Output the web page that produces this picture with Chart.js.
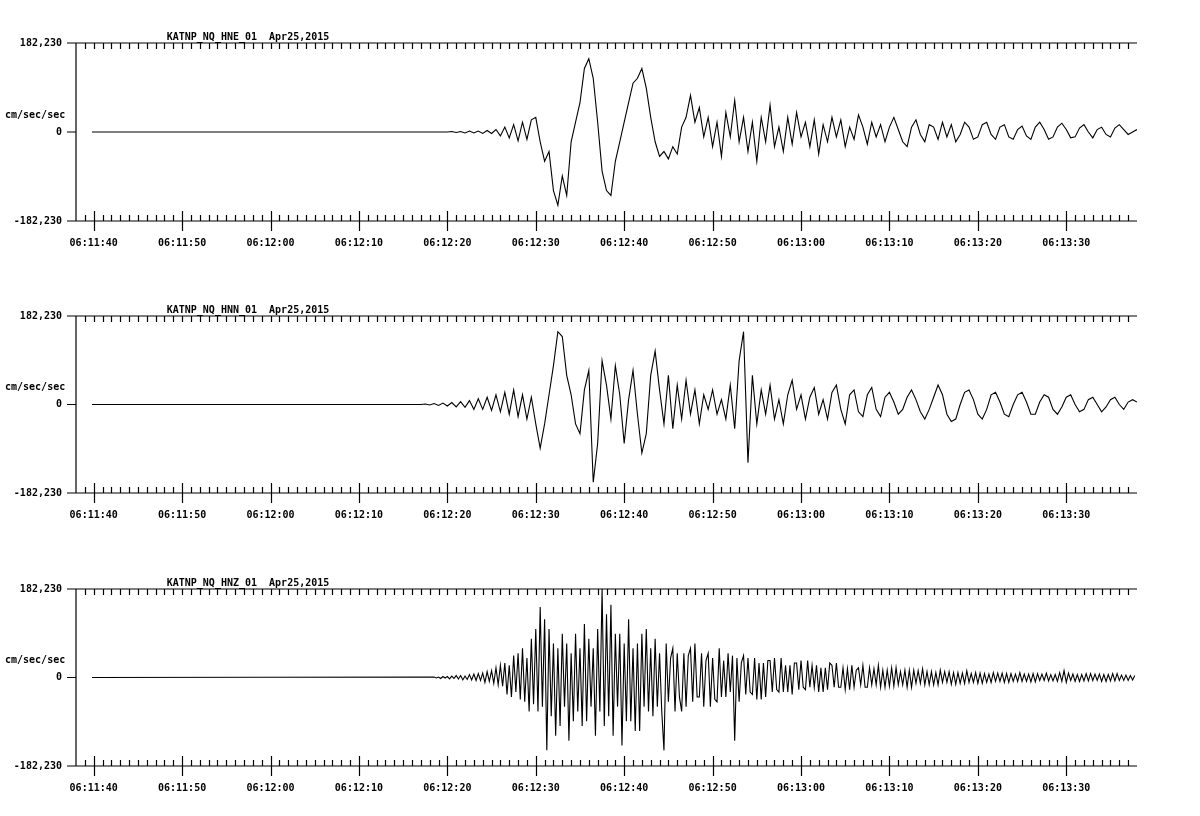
<!DOCTYPE html>
<html><head><meta charset="utf-8">
<script src="https://cdn.jsdelivr.net/npm/chart.js@4"></script>
<style>body{margin:0;background:#fff;width:1200px;height:816px;overflow:hidden}
.w{position:absolute;left:0;width:1200px;height:272px}</style></head><body>
<div class="w" style="top:0"><canvas id="c0"></canvas></div>
<div class="w" style="top:272px"><canvas id="c1"></canvas></div>
<div class="w" style="top:544px"><canvas id="c2"></canvas></div>
<script>
const titles = ["KATNP_NQ_HNE_01  Apr25,2015","KATNP_NQ_HNN_01  Apr25,2015","KATNP_NQ_HNZ_01  Apr25,2015"];
const unitLabel = "cm/sec/sec";
const yMax = 182.23;
const yTickLabels = ["182,230","0","-182,230"];
const timeTickLabels = ["06:11:40","06:11:50","06:12:00","06:12:10","06:12:20","06:12:30","06:12:40","06:12:50","06:13:00","06:13:10","06:13:20","06:13:30"];
const traceStart = -0.2;   // seconds after 06:11:40
const hneStart = 40, hneStep = 0.5;
const hneValues = [0,1,-1,1,-2,2,-2,2,-3,3,-3,5,-8,10,-12,15,-18,20,-15,25,30,
-20,-60,-40,-120,-150,-90,-130,-20,20,60,130,150,110,20,-80,-120,-130,-60,-20,20,60,100,110,130,90,30,-20,-50,-40,-55,-30,-45,10,30,75,20,50,-10,30,-30,20,-50,40,-10,65,-20,30,-40,20,-60,30,-20,55,-30,10,-40,30,-25,40,-10,20,-30,25,-45,15,-20,30,-10,25,-30,10,-15,35,10,-25,20,-10,15,-20,10,30,5,-20,-30,10,25,-5,-20,15,10,-15,20,-10,15,-20,-5,20,10,-15,-10,15,20,-5,-15,10,15,-10,-15,5,12,-8,-15,10,20,5,-15,-10,10,18,5,-12,-10,8,15,0,-12,5,10,-5,-10,8,15,5,-5,0,5];
const hnnStart = 37, hnnStep = 0.5;
const hnnValues = [0,1,-1,2,-2,3,-3,4,-5,6,-6,8,-10,12,-10,15,-12,20,-15,25,-20,30,-25,20,-30,15,-40,
-90,-40,20,80,150,140,60,20,-40,-60,30,70,-160,-80,90,40,-30,80,20,-80,10,70,-20,-100,-60,60,110,30,-40,60,-50,40,-30,50,-20,30,-40,20,-10,30,-20,10,-30,40,-50,90,150,-120,60,-40,30,-20,40,-30,10,-40,20,50,-10,20,-30,15,35,-20,10,-30,25,40,-10,-40,20,30,-15,-25,20,35,-10,-25,15,25,5,-20,-10,15,30,10,-15,-30,-10,15,40,20,-20,-35,-30,0,25,30,10,-20,-30,-10,20,25,5,-20,-25,0,20,25,5,-20,-20,5,20,15,-10,-20,-5,15,20,0,-15,-10,10,15,0,-15,-5,10,15,0,-10,5,10,5];
const hnzStart = 38.5, hnzStep = 0.25;
const hnzValues = [1,-1,1,-2, 2,-1,2,-3, 3,-2,4,-3, 4,-5,3,-4, 6,-5,7,-6, 8,-6,9,-10, 12,-8,14,-12,
20,-15,25,-18, 30,-35,25,-40, 45,-30,50,-45, 60,-50,40,-70, 80,-55,100,-70,
145,-60,120,-150, 100,-80,70,-120, 60,-100,90,-60, 70,-130,50,-90, 90,-70,60,-100,
110,-90,80,-60, 60,-120,100,-70, 182,-100,130,-80, 150,-120,90,-60, 90,-140,70,-90,
120,-90,60,-110, 70,-110,90,-60, 100,-70,60,-80, 80,-60,50,-70, -150,70,-50,40,
60,-70,50,-40, -70,50,-60,45, 60,-50,70,-40, -40,50,-60,35, 50,-60,40,-45,
-50,60,-40,35, -40,50,-30,45, -130,40,-50,30, 45,-35,40,-30, -35,40,-45,30,
-45,30,-40,35, 35,-30,40,-25, -30,40,-30,25, -30,25,-35,30, 30,-25,35,-20,
-25,35,-20,25, -20,25,-30,20, -30,20,-25,30, 25,-20,30,-20, -20,20,-25,18,
-25,25,-20,15, 20,-15,25,-20, -20,20,-15,18, -15,25,-20,15, -20,15,-18,20,
-18,20,-15,12, -15,15,-20,15, -20,15,-12,14, -12,18,-15,12, -15,12,-15,10,
-15,15,-10,12, -10,12,-14,10, -14,10,-12,9, -12,14,-10,8, -10,10,-12,9,
-12,8,-10,7, -10,10,-8,9, -8,9,-10,8, -10,8,-8,7, -8,10,-8,7,
-8,7,-9,8, -9,8,-6,7, -6,9,-7,6, -7,6,-8,10, -8,14,-10,9,
-6,7,-8,6, -8,6,-7,8, -7,8,-6,7, -6,7,-8,6, -8,6,-7,8,
-7,8,-6,5, -6,5,-6,4, -5,4];
const traces = [[hneStart,hneStep,hneValues],[hnnStart,hnnStep,hnnValues],[hnzStart,hnzStep,hnzValues]];
const pads = [{top:43,bottom:51},{top:44,bottom:51},{top:45,bottom:50}];
const FONT = 'bold 10px "DejaVu Sans Mono"';

function frame(idx){return {id:'frame'+idx,afterDatasetsDraw(chart){
  const c=chart.ctx,a=chart.chartArea,xs=chart.scales.x,ys=chart.scales.y;
  const L=a.left,R=a.right,T=a.top,B=a.bottom,Z=ys.getPixelForValue(0);
  c.save();c.strokeStyle='#000';c.lineWidth=1.2;c.fillStyle='#000';
  c.beginPath();
  c.moveTo(67,T);c.lineTo(R,T);c.moveTo(67,B);c.lineTo(R,B);
  c.moveTo(L,T);c.lineTo(L,B);c.moveTo(67,Z);c.lineTo(L,Z);
  for(let s=-1;s<=118;s++){const x=Math.round(xs.getPixelForValue(s))+0.5;
    if(x<=L+1||x>R)continue;
    c.moveTo(x,T);c.lineTo(x,T+6);
    if(s%10===0){c.moveTo(x,B-10);c.lineTo(x,B+10);}else{c.moveTo(x,B);c.lineTo(x,B-6);}
  }
  c.stroke();
  c.font=FONT;c.textAlign='right';c.textBaseline='middle';
  c.fillText(yTickLabels[0],62,T);c.fillText(yTickLabels[1],62,Z);c.fillText(yTickLabels[2],62,B);
  c.textAlign='left';c.fillText(unitLabel,5,Z-17);
  c.textAlign='center';c.textBaseline='alphabetic';
  c.fillText(titles[idx],248,T-3);
  c.textBaseline='middle';
  timeTickLabels.forEach((t,i)=>c.fillText(t,xs.getPixelForValue(i*10),B+22));
  c.restore();
}};}

traces.forEach(([start,step,vals],i)=>{
  const data=[{x:traceStart,y:0},...vals.map((v,k)=>({x:start+k*step,y:v}))];
  new Chart(document.getElementById('c'+i),{type:'line',
    data:{datasets:[{data,borderColor:'#000',borderWidth:1.1,pointRadius:0,tension:0,fill:false}]},
    options:{responsive:true,maintainAspectRatio:false,animation:false,
      layout:{padding:{left:76,right:63,top:pads[i].top,bottom:pads[i].bottom}},
      plugins:{legend:{display:false},tooltip:{enabled:false}},
      scales:{x:{type:'linear',min:-2,max:118,display:false},y:{min:-yMax,max:yMax,display:false}}},
    plugins:[frame(i)]});
});
</script></body></html>
